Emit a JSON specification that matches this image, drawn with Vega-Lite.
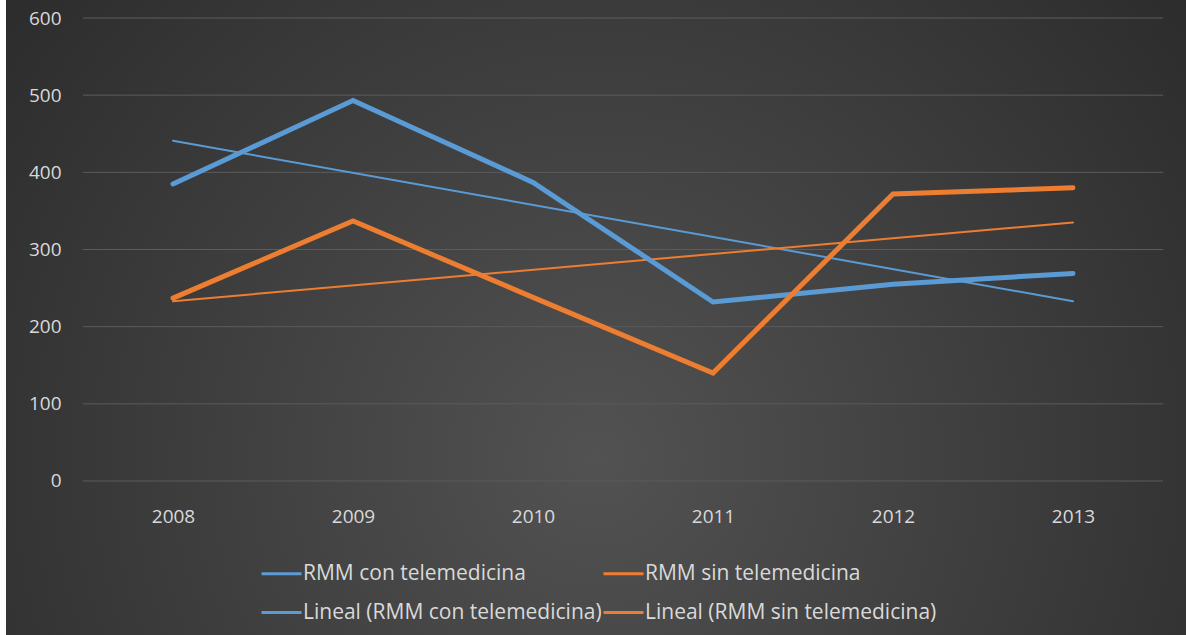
{
  "$schema": "https://vega.github.io/schema/vega-lite/v6.json",
  "width": 1180,
  "height": 635,
  "autosize": {"type": "none"},
  "padding": {"left": 6, "top": 0, "right": 0, "bottom": 0},
  "background": "#ffffff",
  "config": {
    "view": {
      "stroke": null,
      "fill": {
        "gradient": "radial",
        "x1": 0.5, "y1": 0.62, "r1": 0,
        "x2": 0.5, "y2": 0.62, "r2": 0.72,
        "stops": [
          {"offset": 0, "color": "#525252"},
          {"offset": 1, "color": "#272727"}
        ]
      }
    },
    "font": "Open Sans",
    "axis": {"labelColor": "#d9d9d9", "labelFont": "Open Sans", "labelFontSize": 19}
  },
  "datasets": {
    "series": [
      {"year": 2008, "serie": "RMM con telemedicina", "v": 385},
      {"year": 2009, "serie": "RMM con telemedicina", "v": 493},
      {"year": 2010, "serie": "RMM con telemedicina", "v": 387},
      {"year": 2011, "serie": "RMM con telemedicina", "v": 232},
      {"year": 2012, "serie": "RMM con telemedicina", "v": 255},
      {"year": 2013, "serie": "RMM con telemedicina", "v": 269},
      {"year": 2008, "serie": "RMM sin telemedicina", "v": 237},
      {"year": 2009, "serie": "RMM sin telemedicina", "v": 337},
      {"year": 2010, "serie": "RMM sin telemedicina", "v": 238},
      {"year": 2011, "serie": "RMM sin telemedicina", "v": 140},
      {"year": 2012, "serie": "RMM sin telemedicina", "v": 372},
      {"year": 2013, "serie": "RMM sin telemedicina", "v": 380}
    ],
    "trend": [
      {"year": 2008, "serie": "Lineal (RMM con telemedicina)", "v": 441},
      {"year": 2013, "serie": "Lineal (RMM con telemedicina)", "v": 233},
      {"year": 2008, "serie": "Lineal (RMM sin telemedicina)", "v": 233},
      {"year": 2013, "serie": "Lineal (RMM sin telemedicina)", "v": 335}
    ],
    "grid": [
      {"v": 0}, {"v": 100}, {"v": 200}, {"v": 300}, {"v": 400}, {"v": 500}, {"v": 600}
    ]
  },
  "layer": [
    {
      "data": {"name": "grid"},
      "mark": {"type": "rule", "color": "#5c5c5c", "strokeWidth": 1},
      "encoding": {
        "y": {"field": "v", "type": "quantitative"},
        "x": {"datum": 2007.5, "type": "quantitative"},
        "x2": {"datum": 2013.5}
      }
    },
    {
      "data": {"name": "trend"},
      "mark": {"type": "line", "strokeWidth": 2, "strokeCap": "round"},
      "encoding": {
        "x": {"field": "year", "type": "quantitative"},
        "y": {"field": "v", "type": "quantitative"},
        "color": {"field": "serie", "type": "nominal"}
      }
    },
    {
      "data": {"name": "series"},
      "mark": {"type": "line", "strokeWidth": 5, "strokeCap": "round", "strokeJoin": "miter"},
      "encoding": {
        "x": {
          "field": "year", "type": "quantitative",
          "scale": {"domain": [2007.0722, 2013.6278], "nice": false, "zero": false},
          "axis": {
            "title": null, "values": [2008, 2009, 2010, 2011, 2012, 2013], "format": "d",
            "grid": false, "ticks": false, "domain": false, "offset": -154, "labelPadding": 26
          }
        },
        "y": {
          "field": "v", "type": "quantitative",
          "scale": {"domain": [-199.57, 623.33], "nice": false, "zero": false},
          "axis": {
            "title": null, "values": [0, 100, 200, 300, 400, 500, 600],
            "grid": false, "ticks": false, "domain": false, "offset": -77, "labelPadding": 22
          }
        },
        "color": {
          "field": "serie", "type": "nominal",
          "scale": {
            "domain": ["RMM con telemedicina", "Lineal (RMM con telemedicina)", "RMM sin telemedicina", "Lineal (RMM sin telemedicina)"],
            "range": ["#5B9BD5", "#5B9BD5", "#ED7D31", "#ED7D31"]
          },
          "legend": {
            "title": null, "orient": "none", "legendX": 254, "legendY": 552,
            "columns": 2, "columnPadding": -8, "rowPadding": 7, "padding": 0,
            "symbolType": "stroke", "symbolSize": 1600, "symbolStrokeWidth": 3,
            "labelOffset": 0, "labelFont": "Open Sans", "labelFontSize": 21,
            "labelColor": "#d9d9d9", "labelLimit": 400
          }
        }
      }
    }
  ]
}
